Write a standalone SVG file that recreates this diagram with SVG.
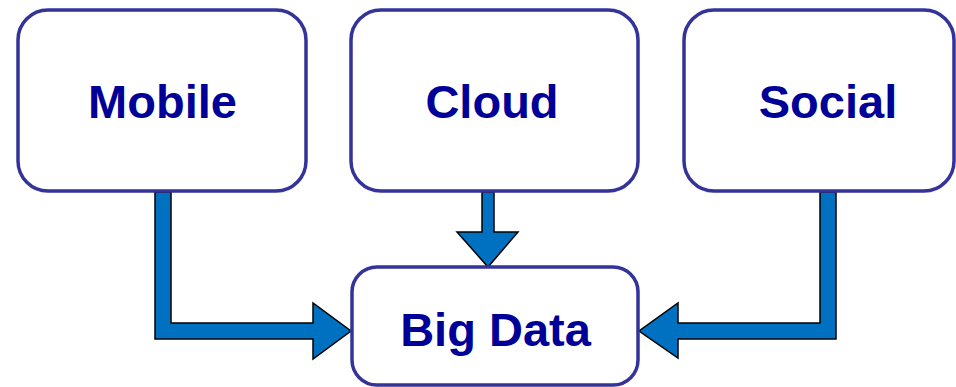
<svg xmlns="http://www.w3.org/2000/svg" width="956" height="387" viewBox="0 0 956 387">
<style>
.box{fill:#fff;stroke:#333399;stroke-width:3.5}
.lbl{font-family:"Liberation Sans",Arial,sans-serif;font-weight:bold;font-size:47px;fill:#000099;text-anchor:middle}
.arr{fill:#0070C0;stroke:#000;stroke-width:1.5;stroke-linejoin:miter}
</style>
<rect width="956" height="387" fill="#fff"/>
<g id="connectors">
<path class="arr" d="M155,192 H171 V323 H313 V303 L351,331 L313,359 V339 H155 Z"/>
<path class="arr" d="M482,192 H494 V232 H518 L488,267 L457,232 H482 Z"/>
<path class="arr" d="M836,192 H820 V323 H678 V303 L639,331 L678,358 V339 H836 Z"/>
</g>
<g id="mobile">
<rect class="box" x="18" y="10" width="288" height="181" rx="30"/>
<text class="lbl" x="162.5" y="118">Mobile</text>
</g>
<g id="cloud">
<rect class="box" x="351" y="10" width="287" height="181" rx="30"/>
<text class="lbl" x="492" y="118">Cloud</text>
</g>
<g id="social">
<rect class="box" x="684" y="10" width="270" height="181" rx="30"/>
<text class="lbl" x="828" y="118">Social</text>
</g>
<g id="bigdata">
<rect class="box" x="352" y="267" width="286" height="118" rx="25"/>
<text class="lbl" x="495.5" y="346">Big Data</text>
</g>
</svg>
